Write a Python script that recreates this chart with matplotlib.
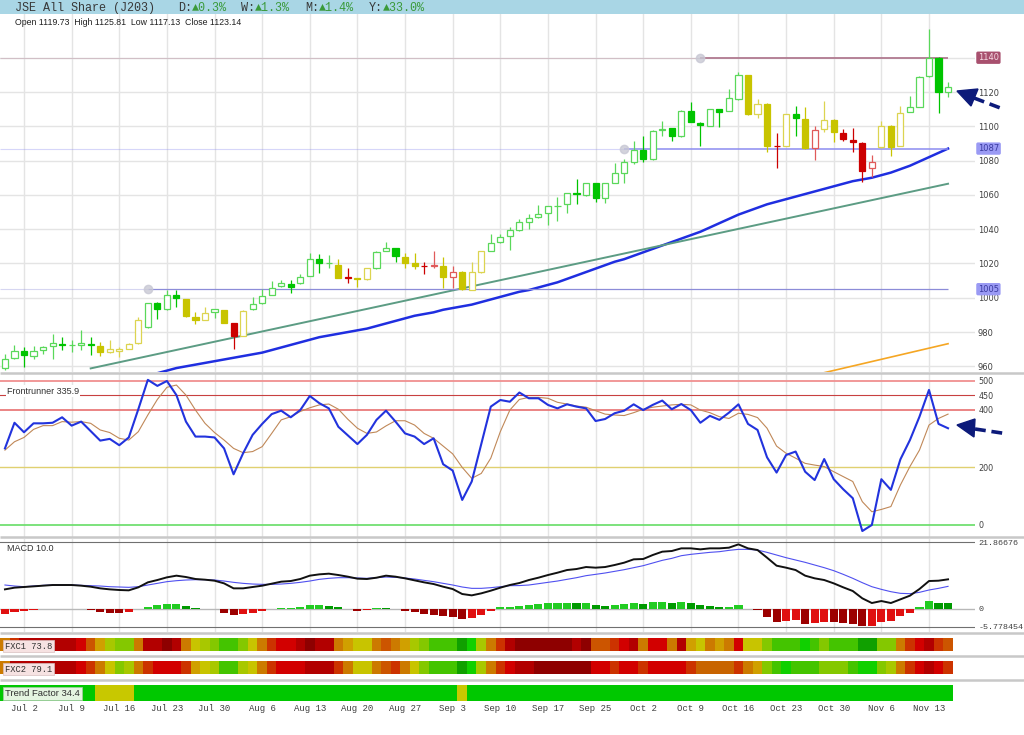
import numpy as np
import matplotlib.pyplot as plt
from matplotlib.patches import Rectangle, Polygon
from matplotlib.transforms import blended_transform_factory

# ======================
# data (one entry per trading day)
# ======================
opens = [
    959.0, 964.7, 969.0, 966.0, 969.4, 972.0, 973.0, 972.3, 972.5, 973.0,
    971.9, 968.2, 969.2, 970.3, 973.4, 982.8, 996.8, 993.5, 1001.6, 999.3,
    989.0, 987.1, 991.5, 992.9, 985.1, 977.9, 993.2, 996.7, 1001.6, 1006.9,
    1008.0, 1008.4, 1012.7, 1022.6, 1020.1, 1019.1, 1011.8, 1011.7, 1010.7, 1017.5,
    1027.3, 1029.2, 1024.0, 1020.1, 1018.6, 1018.8, 1018.7, 1011.9, 1015.2, 1004.6,
    1014.8, 1027.3, 1032.3, 1036.0, 1039.5, 1044.4, 1046.9, 1049.2, 1053.4, 1054.7,
    1060.9, 1059.9, 1066.7, 1058.0, 1067.1, 1072.6, 1079.4, 1086.2, 1080.9, 1098.0,
    1098.8, 1094.4, 1109.1, 1102.1, 1100.2, 1109.9, 1109.1, 1115.9, 1129.9, 1107.0,
    1112.8, 1088.6, 1088.5, 1107.0, 1104.1, 1087.2, 1098.2, 1103.7, 1096.3, 1092.0,
    1090.5, 1075.5, 1087.7, 1100.4, 1088.5, 1108.6, 1111.5, 1129.3, 1140.0, 1119.73,
]
highs = [
    967.2, 972.5, 971.5, 972.0, 972.0, 978.7, 977.3, 975.4, 981.0, 977.3,
    974.4, 975.4, 971.1, 973.8, 989.0, 997.0, 997.5, 1004.5, 1004.5, 999.5,
    991.9, 994.4, 993.5, 993.0, 985.3, 992.7, 1000.6, 1004.9, 1009.8, 1010.4,
    1010.4, 1013.9, 1026.3, 1025.5, 1024.9, 1022.4, 1017.2, 1011.8, 1017.5, 1027.0,
    1032.3, 1029.3, 1025.9, 1026.3, 1021.0, 1027.5, 1024.0, 1018.7, 1015.5, 1021.0,
    1027.5, 1037.2, 1037.2, 1041.1, 1045.7, 1048.9, 1054.1, 1053.8, 1058.6, 1061.0,
    1069.1, 1067.0, 1067.0, 1067.0, 1078.8, 1081.0, 1091.4, 1094.4, 1097.8, 1103.1,
    1099.0, 1109.3, 1114.4, 1102.3, 1110.2, 1110.1, 1121.6, 1131.5, 1130.2, 1115.9,
    1113.4, 1096.3, 1107.2, 1111.9, 1111.1, 1100.2, 1114.8, 1104.0, 1098.4, 1098.8,
    1090.7, 1083.3, 1103.3, 1100.6, 1111.9, 1117.7, 1129.3, 1156.5, 1140.2, 1125.81,
]
lows = [
    958.0, 964.0, 959.5, 964.0, 967.0, 964.0, 969.6, 968.6, 969.6, 966.6,
    966.0, 968.0, 965.3, 970.0, 973.0, 982.5, 987.4, 993.0, 994.4, 989.0,
    984.5, 987.0, 988.0, 985.0, 969.9, 977.5, 993.0, 996.5, 1001.5, 1006.0,
    1002.6, 1008.0, 1012.5, 1014.6, 1017.5, 1011.5, 1008.8, 1006.1, 1010.5, 1017.0,
    1027.0, 1021.0, 1017.2, 1016.6, 1013.9, 1017.2, 1005.5, 1005.5, 1004.5, 1004.5,
    1014.5, 1027.0, 1032.0, 1027.9, 1039.0, 1039.9, 1046.5, 1042.4, 1044.8, 1049.2,
    1054.7, 1059.5, 1056.0, 1055.1, 1067.0, 1066.7, 1078.0, 1079.4, 1080.5, 1094.4,
    1091.4, 1094.0, 1102.5, 1088.5, 1100.0, 1099.8, 1109.0, 1115.5, 1106.7, 1104.6,
    1084.8, 1075.9, 1088.3, 1094.3, 1087.0, 1080.4, 1096.9, 1091.0, 1091.6, 1085.2,
    1067.7, 1070.6, 1087.5, 1082.7, 1088.3, 1108.3, 1111.2, 1129.0, 1107.6, 1117.13,
]
closes = [
    964.1, 969.0, 966.5, 969.0, 971.5, 973.4, 972.3, 972.4, 973.5, 972.3,
    968.2, 970.0, 970.0, 973.0, 987.1, 996.8, 993.3, 1001.6, 1000.1, 989.4,
    987.1, 991.3, 993.3, 985.1, 977.9, 992.5, 996.4, 1001.0, 1005.9, 1008.4,
    1006.5, 1011.9, 1022.4, 1020.1, 1020.2, 1011.7, 1011.6, 1010.7, 1017.2, 1026.9,
    1029.2, 1024.3, 1020.1, 1018.7, 1018.4, 1019.0, 1011.9, 1015.2, 1004.9, 1014.8,
    1027.3, 1031.7, 1035.6, 1039.5, 1044.4, 1046.3, 1048.9, 1053.5, 1053.6, 1060.9,
    1060.3, 1066.7, 1058.0, 1066.7, 1072.6, 1079.4, 1086.2, 1080.9, 1097.5, 1098.6,
    1094.4, 1109.1, 1102.7, 1100.8, 1109.9, 1108.5, 1116.3, 1129.9, 1107.0, 1112.8,
    1088.7, 1088.4, 1107.0, 1104.6, 1087.2, 1097.8, 1103.7, 1096.5, 1092.4, 1090.7,
    1074.0, 1079.4, 1100.4, 1088.1, 1108.0, 1111.5, 1129.0, 1140.0, 1119.8, 1123.14,
]
# g = green, y = yellow, r = red candle state
candle_state = list(
    "gggggggggg" "yyyyyggggy" "yygyrygggg" "gggggyryyg" "ggyyrryryy"
    "yggggggggg" "gggggggggg" "ggggggggyy" "yrygyryyrr" "rryyyggggg"
)

# moving average (starts below the panel)
ma_start = 16
ma_vals = [
    956, 957.5, 959, 960, 961, 962, 963, 964, 965, 966,
    967, 968, 969.5, 971, 972.5, 974, 975.5, 977, 978, 979,
    980, 981, 982, 983.5, 985, 986.5, 988, 989.5, 990.5, 991.5,
    993, 994, 995, 996, 997.5, 999, 1000.5, 1002, 1003.5, 1004.5,
    1006, 1007.5, 1009, 1011, 1013, 1015, 1017, 1019, 1021, 1022.5,
    1024.5, 1026.5, 1028.5, 1030.5, 1032.5, 1034.5, 1036.5, 1038.5, 1041, 1043.5,
    1046, 1048.5, 1050.5, 1052.5, 1054.5, 1056, 1057.5, 1059, 1060.5, 1062,
    1063.5, 1065, 1066.5, 1068, 1069, 1070, 1071.5, 1073, 1075, 1077,
    1079.5, 1082, 1084.5, 1087,
]
# drawn trend lines (two anchor points each)
trend_green_x = [9, 99]
trend_green_y = [958.8, 1066.5]
trend_orange_x = [85, 99]
trend_orange_y = [955.0, 973.2]

# horizontal levels: value, anchor day
levels = [1140, 1087, 1005]
level_start = [73, 65, 15]

# Frontrunner
fr_value = 335.9
fr_fast = [
    266, 355, 322, 353, 353, 355, 374, 345, 359, 326,
    293, 299, 277, 304, 402, 504, 483, 500, 451, 359,
    307, 307, 304, 266, 176, 249, 313, 351, 385, 397,
    374, 399, 448, 423, 405, 341, 311, 281, 313, 365,
    397, 359, 318, 307, 281, 301, 211, 189, 87, 151,
    281, 411, 434, 428, 460, 440, 440, 417, 405, 419,
    411, 405, 361, 368, 388, 397, 419, 399, 417, 432,
    402, 420, 399, 355, 379, 365, 390, 419, 351, 330,
    235, 182, 243, 255, 185, 156, 229, 159, 124, 93,
    -21, 0, 159, 122, 228, 295, 376, 469, 351, 335.9,
]
fr_slow = [
    260, 289, 304, 332, 345, 345, 359, 357, 359, 353,
    330, 321, 301, 295, 324, 382, 436, 478, 486, 451,
    399, 353, 321, 295, 266, 251, 255, 272, 318, 365,
    376, 394, 407, 417, 420, 402, 367, 336, 318, 323,
    344, 362, 362, 347, 318, 301, 274, 247, 200, 162,
    179, 232, 324, 399, 436, 443, 443, 440, 426, 420,
    413, 409, 397, 385, 382, 380, 390, 402, 409, 413,
    417, 419, 417, 399, 390, 376, 370, 388, 384, 373,
    336, 274, 249, 232, 214, 208, 203, 185, 168, 151,
    81, 46, 54, 64, 139, 203, 260, 347, 370, 385,
]
fr_levels = [500, 450, 400, 200, 0]

# MACD
macd_line = [
    6.41, 6.96, 7.18, 7.39, 7.61, 7.83, 7.83, 7.83, 7.61, 7.28,
    6.74, 6.41, 6.20, 6.09, 7.07, 8.70, 9.46, 10.33, 10.88, 10.44,
    9.79, 9.57, 9.24, 8.37, 6.74, 6.74, 7.18, 7.61, 8.26, 8.92,
    9.13, 9.79, 10.88, 11.31, 11.53, 11.09, 10.55, 9.90, 9.79, 10.22,
    10.88, 10.55, 10.01, 9.35, 8.70, 8.15, 7.28, 6.52, 4.89, 4.45,
    5.11, 5.98, 6.96, 7.83, 8.48, 9.46, 10.22, 11.09, 11.85, 12.72,
    13.05, 13.70, 13.49, 13.70, 14.36, 15.12, 16.21, 16.32, 17.62, 18.71,
    18.93, 19.80, 19.80, 19.47, 19.80, 19.80, 20.02, 21.10, 19.80, 19.25,
    16.75, 14.14, 13.49, 12.72, 10.88, 10.01, 9.46, 8.37, 7.07, 5.87,
    3.48, 1.95, 2.60, 1.95, 3.15, 4.35, 6.52, 9.13, 9.24, 9.68,
]
macd_signal = [
    7.83, 7.50, 7.28, 7.50, 7.72, 7.83, 7.83, 7.83, 7.72, 7.61,
    7.50, 7.28, 7.18, 7.07, 7.28, 7.83, 8.37, 8.92, 9.24, 9.46,
    9.57, 9.57, 9.46, 9.13, 8.70, 8.37, 8.15, 8.05, 8.05, 8.15,
    8.37, 8.70, 9.13, 9.68, 10.01, 10.22, 10.22, 10.11, 10.01, 10.22,
    10.44, 10.33, 10.11, 9.79, 9.35, 8.92, 8.37, 7.83, 7.18, 6.74,
    6.74, 6.96, 7.28, 7.61, 7.65, 7.83, 8.26, 8.70, 9.13, 9.68,
    10.22, 10.88, 11.31, 11.75, 12.29, 12.83, 13.49, 14.14, 15.01, 15.88,
    16.53, 17.40, 17.84, 18.17, 18.49, 18.71, 19.14, 19.47, 19.47, 19.25,
    18.49, 17.62, 16.75, 15.99, 15.23, 14.36, 13.49, 12.51, 11.31, 10.01,
    8.59, 7.28, 6.41, 5.65, 5.11, 5.00, 5.44, 6.20, 6.74, 7.39,
]
macd_hist = [
    -1.63, -0.87, -0.65, -0.2, -0.05, 0.1, 0.03, 0.02, -0.05, -0.4,
    -1.0, -1.2, -1.4, -1.1, 0.05, 0.76, 1.31, 1.63, 1.74, 1.09,
    0.22, 0.12, 0.05, -1.2, -1.96, -1.74, -1.31, -0.65, -0.05, 0.33,
    0.33, 0.65, 1.2, 1.41, 1.09, 0.54, 0.05, -0.54, -0.44, 0.33,
    0.22, 0.05, -0.54, -1.09, -1.63, -1.85, -2.29, -2.61, -3.37, -2.83,
    -1.96, -0.76, 0.65, 0.65, 0.98, 1.31, 1.52, 1.85, 1.85, 2.07,
    1.85, 2.07, 1.2, 1.09, 1.41, 1.63, 2.07, 1.63, 2.29, 2.29,
    1.85, 2.29, 1.85, 1.2, 0.98, 0.65, 0.65, 1.2, 0.05, -0.4,
    -2.72, -4.13, -3.92, -3.59, -5.01, -4.68, -4.13, -4.24, -4.68, -4.79,
    -5.66, -5.66, -4.13, -3.92, -2.29, -1.2, 0.76, 2.61, 2.07, 1.85,
]
macd_top = 21.86676
macd_bottom = -5.778454

# heat strips
fxc1 = [
    "O", "RO", "DR", "DR", "DR", "DR", "DR", "DR", "R", "OR",
    "YO", "YG", "LG", "LG", "O", "DR", "DR", "DR2", "DR", "O",
    "Y", "YG", "LG", "G", "G", "LG", "Y", "O", "RO", "R",
    "R", "DR", "DR2", "DR", "DR", "O", "YO", "Y", "Y", "O",
    "OR", "O", "YO", "YG", "LG", "G", "G", "G", "DG", "BG",
    "YG", "O", "RO", "DR", "DR2", "DR2", "DR2", "DR2", "DR2", "DR2",
    "DR", "DR2", "OR", "OR", "RO", "R", "DR", "O", "R", "R",
    "O", "DR", "YO", "Y", "O", "YO", "O", "R", "Y", "Y",
    "LG", "G", "G", "G", "BG", "G", "LG", "G", "G", "G",
    "DG", "DG", "LG", "LG", "O", "RO", "R", "DR", "RO", "OR",
]
fxc2 = [
    "O", "DR", "DR", "DR", "DR", "DR", "DR", "DR", "R", "RO",
    "O", "Y", "LG", "YG", "O", "RO", "R", "R", "R", "RO",
    "YO", "Y", "YG", "G", "G", "YG", "Y", "O", "RO", "R",
    "R", "R", "DR", "DR", "DR", "RO", "O", "Y", "Y", "O",
    "OR", "RO", "O", "Y", "LG", "G", "G", "G", "DG", "BG",
    "YG", "O", "RO", "R", "DR", "DR", "DR2", "DR2", "DR2", "DR2",
    "DR2", "DR2", "R", "R", "RO", "R", "R", "RO", "R", "R",
    "R", "R", "RO", "O2", "O2", "O2", "O2", "RO", "O", "YO",
    "LG", "G", "BG", "G", "G", "G", "LG", "LG", "LG", "G",
    "BG", "BG", "LG", "YG", "O", "RO", "R", "DR", "R", "RO",
]
trend_state = list(
    "gggggggggg" "yyyygggggg" "gggggggggg" "gggggggggg" "ggggggggyg"
    "gggggggggg" "gggggggggg" "gggggggggg" "gggggggggg" "gggggggggg"
)

tick_idx = [2, 7, 12, 17, 22, 27, 32, 37, 42, 47, 52, 57, 62, 67, 72, 77, 82, 87, 92, 97]
tick_labels = ["Jul 2", "Jul 9", "Jul 16", "Jul 23", "Jul 30", "Aug 6", "Aug 13",
               "Aug 20", "Aug 27", "Sep 3", "Sep 10", "Sep 17", "Sep 25", "Oct 2",
               "Oct 9", "Oct 16", "Oct 23", "Oct 30", "Nov 6", "Nov 13"]

# ======================
# styles
# ======================
heat = {"DR2": "#8e0000", "DR": "#b20000", "R": "#d20000", "RO": "#cc3300",
        "OR": "#cc5500", "O": "#cc7a00", "O2": "#c86400", "YO": "#d0a000",
        "Y": "#c8c400", "YG": "#a8c800", "LG": "#84c800", "G": "#44c400",
        "BG": "#10d000", "DG": "#10a000"}
fill_col = {"g": "#00c400", "y": "#c8c400", "r": "#cc0000"}
edge_col = {"g": "#5ad85a", "y": "#dcd450", "r": "#e05a5a"}
GRID = "#e4e4e4"
MONO = ["Liberation Mono", "DejaVu Sans Mono"]
SANS = ["Liberation Sans", "DejaVu Sans"]

W, H = 1024, 735
RIGHT = 975
XLIM = (-0.52, 101.83)

fig = plt.figure(figsize=(W / 100, H / 100), dpi=100)
fig.patch.set_facecolor("white")


def panel(top, bottom):
    a = fig.add_axes([0, 1 - bottom / H, RIGHT / W, (bottom - top) / H])
    a.set_xlim(*XLIM)
    for s in a.spines.values():
        s.set_visible(False)
    return a


def vgrid(a):
    a.set_xticks(tick_idx)
    a.tick_params(axis="x", length=0, labelbottom=False)
    a.grid(True, axis="x", color=GRID, lw=1.0)
    a.set_axisbelow(True)


n = len(opens)
idx = np.arange(n)

# ======================
# price panel
# ======================
ax = panel(14, 372)
ax.set_ylim(956.7, 1165.5)
vgrid(ax)
price_ticks = list(range(960, 1141, 20))
ax.yaxis.tick_right()
ax.set_yticks(price_ticks)
ax.set_yticklabels([str(v) if v < 1140 else "" for v in price_ticks])
ax.tick_params(axis="y", length=0, pad=2, labelsize=6, labelcolor="#404040")
ax.grid(True, axis="y", color=GRID, lw=1.0)

ax.plot(np.arange(ma_start, ma_start + len(ma_vals)), ma_vals, color="#1f2ee0", lw=1.8, zorder=2)
ax.plot(trend_green_x, trend_green_y, color="#5c9c84", lw=1.4, zorder=2)
ax.plot(trend_orange_x, trend_orange_y, color="#f5a623", lw=1.2, zorder=2)

lvl_col = ["#b07a90", "#8c8cf0", "#8c8cd8"]
lvl_lw = [1.3, 1.1, 0.9]
lvl_box = ["#a8506e", "#9a9af4", "#9a9af4"]
lvl_txt = ["#f6dbe4", "#3a3aa0", "#3a3aa0"]
tr = blended_transform_factory(ax.transAxes, ax.transData)
for v, s, c, w, bc, tc in zip(levels, level_start, lvl_col, lvl_lw, lvl_box, lvl_txt):
    ax.hlines(v, XLIM[0], s, color=c, lw=0.8, alpha=0.35, zorder=2)
    ax.hlines(v, s, n - 1, color=c, lw=w, zorder=2)
    ax.plot(s, v, "o", ms=6, color="#c8c8d4", alpha=0.8, zorder=2)
    ax.text(1.003, v, str(v), transform=tr, ha="left", va="center", fontsize=6,
            color=tc, bbox=dict(boxstyle="round,pad=0.2", fc=bc, ec="none"))

for i in idx:
    o, c = opens[i], closes[i]
    st = candle_state[i]
    up = c >= o
    col = edge_col[st] if up else fill_col[st]
    ax.vlines(i, lows[i], highs[i], color=col, lw=0.9, zorder=3)
    lo, hi = min(o, c), max(o, c)
    ax.bar(i, max(hi - lo, 0.35), bottom=lo, width=0.64,
           facecolor="white" if up else col, edgecolor=col, lw=0.9, zorder=4)

ax.text(15 / RIGHT, 0.975, "Open %.2f  High %.2f  Low %.2f  Close %.2f"
        % (opens[-1], highs[-1], lows[-1], closes[-1]),
        transform=ax.transAxes, ha="left", va="center", fontsize=6.3,
        family=SANS, color="#202020")

# ======================
# Frontrunner panel
# ======================
fr = panel(374, 537)
fr.set_ylim(-41.7, 524.3)
vgrid(fr)
fr_cols = ["#f09090", "#c84040", "#e87070", "#e0d070", "#66dd66"]
fr_lw = [1.3, 0.8, 1.2, 1.0, 1.2]
for v, c, w in zip(fr_levels, fr_cols, fr_lw):
    fr.axhline(v, color=c, lw=w, zorder=1)
fr.plot(idx, fr_slow, color="#c08858", lw=0.8, zorder=3)
fr.plot(idx, fr_fast, color="#2233dd", lw=1.5, zorder=4)
fr.yaxis.tick_right()
fr.set_yticks(fr_levels)
fr.set_yticklabels([str(v) for v in fr_levels])
fr.tick_params(axis="y", length=0, pad=2.5, labelsize=5.8, labelcolor="#404040")
fr.text(7 / RIGHT, 0.895, "Frontrunner %.1f" % fr_value, transform=fr.transAxes,
        ha="left", va="center", fontsize=6.5, family=SANS, color="#303030", zorder=6,
        bbox=dict(boxstyle="square,pad=0.15", fc="white", ec="none"))

# ======================
# MACD panel
# ======================
md = panel(539, 632)
md.set_ylim(-7.51, 22.85)
vgrid(md)
md.axhline(macd_top, color="#707070", lw=0.8, zorder=1)
md.axhline(macd_bottom, color="#707070", lw=0.8, zorder=1)
md.axhline(0, color="#b8b8b8", lw=1.0, zorder=1)
hist_cols = []
for i, h in enumerate(macd_hist):
    prev = macd_hist[i - 1] if i > 0 else h
    if h >= 0:
        hist_cols.append("#22cc22" if h >= prev else "#009a00")
    else:
        hist_cols.append("#e01010" if h >= prev else "#9c0000")
md.bar(idx, macd_hist, width=0.85, color=hist_cols, lw=0, zorder=2)
md.plot(idx, macd_signal, color="#5050f0", lw=0.8, zorder=3)
md.plot(idx, macd_line, color="#111111", lw=1.4, zorder=4)
md.yaxis.tick_right()
md.set_yticks([macd_bottom, 0, macd_top])
md.set_yticklabels(["%.6f" % macd_bottom, "0", "%.5f" % macd_top], family=MONO)
md.tick_params(axis="y", length=0, pad=2.5, labelsize=6, labelcolor="#404040")
md.text(7 / RIGHT, 0.9, "MACD 10.0", transform=md.transAxes, ha="left", va="center",
        fontsize=6.5, family=SANS, color="#303030")

# ======================
# heat strips
# ======================
def strip(top, bottom, cols):
    a = panel(top, bottom)
    a.set_ylim(0, 1)
    a.set_yticks([])
    a.set_xticks([])
    a.bar(idx, 1, width=1.0, bottom=0, color=cols, lw=0)
    return a

s1 = strip(638, 651, [heat[k] for k in fxc1])
s1.text(5 / RIGHT, 0.38, "FXC1 73.8", transform=s1.transAxes, ha="left", va="center",
        fontsize=6.3, family=MONO, color="#303030",
        bbox=dict(boxstyle="square,pad=0.2", fc="#f6e2e2", ec="#d8c0c0", lw=0.5))
s2 = strip(661, 674, [heat[k] for k in fxc2])
s2.text(5 / RIGHT, 0.38, "FXC2 79.1", transform=s2.transAxes, ha="left", va="center",
        fontsize=6.3, family=MONO, color="#303030",
        bbox=dict(boxstyle="square,pad=0.2", fc="#f6e2e2", ec="#d8c0c0", lw=0.5))
s3 = strip(685, 701, ["#00c800" if k == "g" else "#c8c800" for k in trend_state])
s3.text(5 / RIGHT, 0.45, "Trend Factor 34.4", transform=s3.transAxes, ha="left",
        va="center", fontsize=6.8, family=SANS, color="#303030",
        bbox=dict(boxstyle="square,pad=0.2", fc="#e4f4e0", ec="#a8c8a8", lw=0.5))
s3.set_xticks(tick_idx)
s3.set_xticklabels(tick_labels, family=MONO, fontsize=6.5, color="#404040")
s3.tick_params(axis="x", length=0, pad=2)

# ======================
# overlay: header, separators, arrows
# ======================
ov = fig.add_axes([0, 0, 1, 1], zorder=10)
ov.set_xlim(0, W)
ov.set_ylim(H, 0)
ov.axis("off")
ov.patch.set_alpha(0)

ov.add_patch(Rectangle((0, 0), W, 14, color="#a9d6e5", lw=0))
head_parts = [(15, "JSE All Share (J203)", "#383838"),
              (178, "D:", "#383838"), (192, "\u25b20.3%", "#3a9a3a"),
              (241, "W:", "#383838"), (255, "\u25b21.3%", "#3a9a3a"),
              (305, "M:", "#383838"), (319, "\u25b21.4%", "#3a9a3a"),
              (369, "Y:", "#383838"), (383, "\u25b233.0%", "#3a9a3a")]
for x, t, c in head_parts:
    ov.text(x, 7.5, t, ha="left", va="center", fontsize=8.5, family=MONO, color=c)

ov.hlines([373, 537, 633, 656, 680], 0, W, color="#c8c8c8", lw=1.8)

NAVY = "#0c1a7a"
ov.add_patch(Polygon([(957, 91), (978, 89), (971, 106)], closed=True, fc=NAVY, ec=NAVY))
ov.plot([974, 1003], [98, 109], color=NAVY, lw=2.6, ls=(0, (3, 1.6)), solid_capstyle="butt")
ov.add_patch(Polygon([(957, 425), (975, 419), (974, 437)], closed=True, fc=NAVY, ec=NAVY))
ov.plot([975, 1005], [429, 433.5], color=NAVY, lw=2.6, ls=(0, (3, 1.6)), solid_capstyle="butt")

fig.savefig("out.png", dpi=100)
